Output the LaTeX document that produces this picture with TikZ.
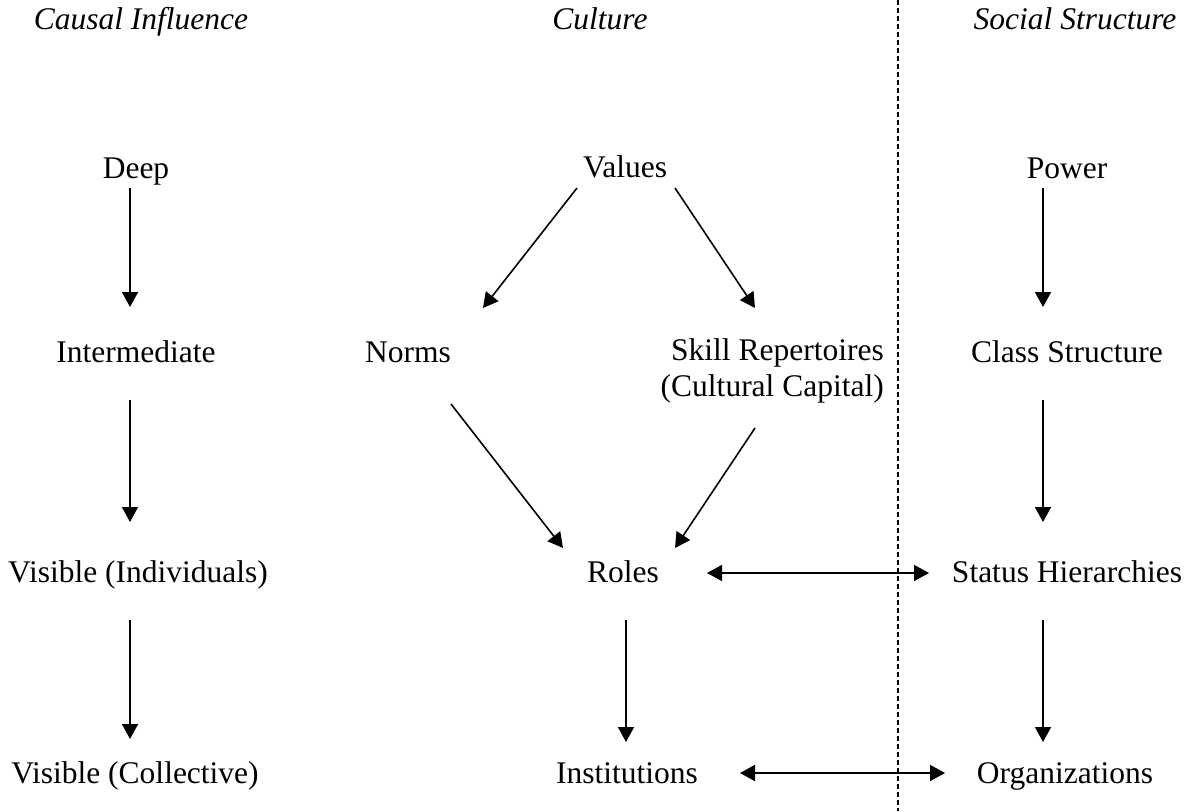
\documentclass[tikz,border=0pt]{standalone}
\usepackage{fontspec}
\setmainfont{Liberation Serif}
\usetikzlibrary{arrows.meta}
\begin{document}
\begin{tikzpicture}[x=1pt,y=-1pt,
  lbl/.style={anchor=base,inner sep=0pt,font=\fontsize{31.5}{36}\selectfont},
  hdr/.style={lbl,font=\fontsize{31.5}{36}\selectfont\itshape},
  tip/.tip={Triangle[length=15pt,width=16pt]},
  arr/.style={line width=1.6pt,-tip},
  darr/.style={line width=1.6pt,tip-tip},
  divider/.style={line width=1.5pt,dash pattern=on 5pt off 3pt}]
\path[use as bounding box] (0,0) rectangle (1185,811);
% headers
\node[hdr] (causal) at (141,29) {Causal Influence};
\node[hdr] (culture) at (600,29) {Culture};
\node[hdr] (social) at (1075,29) {Social Structure};
% column 1
\node[lbl] (deep) at (136,178) {Deep};
\node[lbl] (inter) at (136,362) {Intermediate};
\node[lbl] (visind) at (138,582) {Visible (Individuals)};
\node[lbl] (viscol) at (135,783) {Visible (Collective)};
% culture
\node[lbl] (values) at (625,177) {Values};
\node[lbl] (norms) at (408,362) {Norms};
\node[lbl,anchor=base east,align=right] (skill) at (884,396) {Skill Repertoires\\(Cultural Capital)};
\node[lbl] (roles) at (623,582) {Roles};
\node[lbl] (inst) at (627,783) {Institutions};
% social structure
\node[lbl] (power) at (1067,178) {Power};
\node[lbl] (class) at (1067,362) {Class Structure};
\node[lbl] (status) at (1067,582) {Status Hierarchies};
\node[lbl] (org) at (1065,783) {Organizations};
% divider
\coordinate (dtop) at (898,0);
\coordinate (dbot) at (898,811);
\draw[divider] (dtop) -- (dbot);
% column 1 arrows
\draw[arr] ([shift={(-6,10)}]deep.base) -- ([shift={(-6,-55)}]inter.base);
\draw[arr] ([shift={(-6,38)}]inter.base) -- ([shift={(-8,-60)}]visind.base);
\draw[arr] ([shift={(-8,38)}]visind.base) -- ([shift={(-5,-44)}]viscol.base);
% culture arrows
\draw[arr] ([shift={(-48,11)}]values.base) -- ([shift={(75,-54)}]norms.base);
\draw[arr] ([shift={(50,11)}]values.base) -- ([shift={(-129,-88)}]skill.base east);
\draw[arr] ([shift={(43,42)}]norms.base) -- ([shift={(-60,-34)}]roles.base);
\draw[arr] ([shift={(-129,32)}]skill.base east) -- ([shift={(52,-34)}]roles.base);
\draw[arr] ([shift={(3,38)}]roles.base) -- ([shift={(-1,-41)}]inst.base);
% social structure arrows
\draw[arr] ([shift={(-24,10)}]power.base) -- ([shift={(-24,-55)}]class.base);
\draw[arr] ([shift={(-24,38)}]class.base) -- ([shift={(-24,-60)}]status.base);
\draw[arr] ([shift={(-24,38)}]status.base) -- ([shift={(-22,-41)}]org.base);
% horizontal links
\draw[darr] ([shift={(84,-9)}]roles.base) -- ([shift={(-138,-9)}]status.base);
\draw[darr] ([shift={(113,-10)}]inst.base) -- ([shift={(-120,-10)}]org.base);
\end{tikzpicture}
\end{document}
